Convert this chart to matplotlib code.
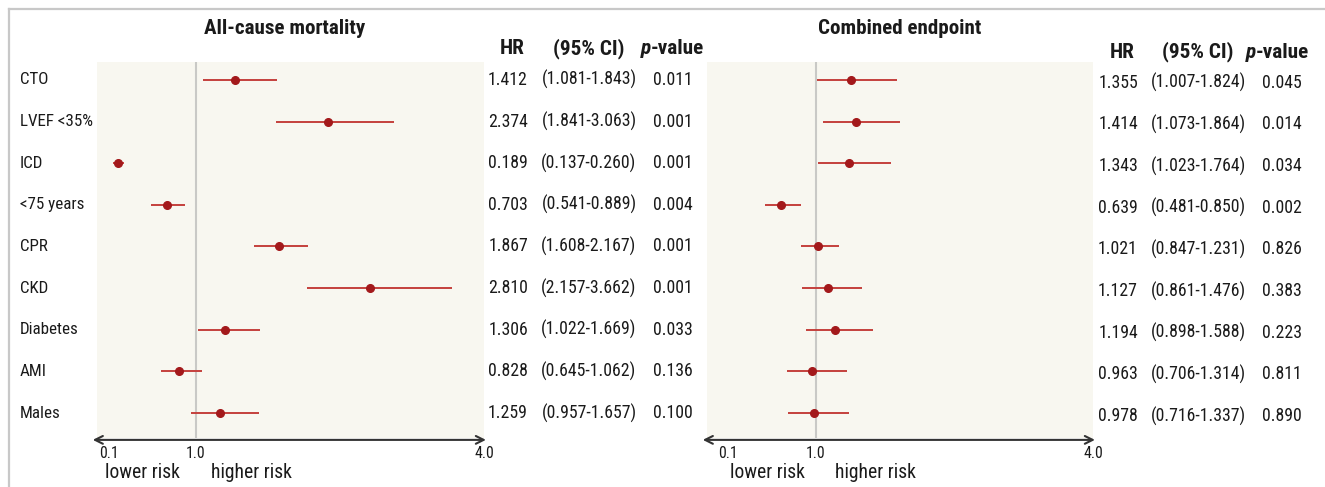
import matplotlib
matplotlib.use("Agg")
import matplotlib.pyplot as plt
import matplotlib.transforms as mtrans
from matplotlib import font_manager as fm
from matplotlib.lines import Line2D
from collections import defaultdict

# ---------------- data ----------------
labels = ["CTO", "LVEF <35%", "ICD", "<75 years", "CPR", "CKD", "Diabetes", "AMI", "Males"]

mort_hr = [1.412, 2.374, 0.189, 0.703, 1.867, 2.810, 1.306, 0.828, 1.259]
mort_lo = [1.081, 1.841, 0.137, 0.541, 1.608, 2.157, 1.022, 0.645, 0.957]
mort_hi = [1.843, 3.063, 0.260, 0.889, 2.167, 3.662, 1.669, 1.062, 1.657]
mort_p = ["0.011", "0.001", "0.001", "0.004", "0.001", "0.001", "0.033", "0.136", "0.100"]

comb_hr = [1.355, 1.414, 1.343, 0.639, 1.021, 1.127, 1.194, 0.963, 0.978]
comb_lo = [1.007, 1.073, 1.023, 0.481, 0.847, 0.861, 0.898, 0.706, 0.716]
comb_hi = [1.824, 1.864, 1.764, 0.850, 1.231, 1.476, 1.588, 1.314, 1.337]
comb_p = ["0.045", "0.014", "0.034", "0.002", "0.826", "0.383", "0.223", "0.811", "0.890"]

titles = ["All-cause mortality", "Combined endpoint"]
tick_labels = ["0.1", "1.0", "4.0"]

# ---------------- fonts ----------------
def _w(f):
    w = f.weight
    if isinstance(w, str):
        w = fm.weight_dict.get(w, 400)
    return w

fams = defaultdict(set)
for f in fm.fontManager.ttflist:
    if "Narrow" in f.name or "Condensed" in f.name:
        fams[f.name].add(_w(f))

pref = ["Liberation Sans Narrow", "Roboto Condensed", "DejaVu Sans Condensed",
        "Noto Sans Condensed", "Open Sans Condensed"]
names_sorted = sorted(fams, key=lambda n: (pref.index(n) if n in pref else 99, n))
reg_fam = None
bold_fam = None
for n in names_sorted:
    if reg_fam is None and min(fams[n]) <= 450:
        reg_fam = n
for n in names_sorted:
    if max(fams[n]) >= 600:
        bold_fam = n
        break

if reg_fam:
    REG = [reg_fam, "DejaVu Sans"]
    SC = 1.18
else:
    REG = ["Roboto", "DejaVu Sans"]
    SC = 1.0
if bold_fam:
    BOLD = [bold_fam, "DejaVu Sans"]
    BSC = 1.18
else:
    BOLD = ["Roboto", "DejaVu Sans"]
    BSC = 0.96
plt.rcParams["font.family"] = REG

FS_VAL = 10.8 * SC
FS_LAB = 10.4 * SC
FS_HEAD = 13 * BSC
FS_TITLE = 12.8 * BSC
FS_TICK = 9.6 * SC
FS_RISK = 12 * SC

W, H = 1325, 487
fig = plt.figure(figsize=(W / 100, H / 100), dpi=100)

def fx(px):
    return px / W

def fy(py):
    return 1 - py / H

# outer border
fig.add_artist(Line2D([fx(9), 1.01], [fy(9), fy(9)], color="#c8c8c8", lw=1.6))
fig.add_artist(Line2D([fx(9), fx(9)], [fy(9), -0.01], color="#c8c8c8", lw=1.6))

BG = "#f8f7f0"
LINEC = "#c4413d"
DOTC = "#a3191b"
TXT = "#1a1a1a"

panels = [
    dict(left=97, right=484, xlim=(-0.025, 4.0), ticks=[0.1, 1.0, 4.0],
         hr=mort_hr, lo=mort_lo, hi=mort_hi, p=mort_p, title=titles[0], title_x=285,
         col_hr=508, col_ci=589, col_p=673, p_split=651, head_y=49, dy=0.0,
         lr=(180, 211)),
    dict(left=707, right=1093, xlim=(-0.112, 3.83), ticks=[0.1, 1.0, 3.83],
         hr=comb_hr, lo=comb_lo, hi=comb_hi, p=comb_p, title=titles[1], title_x=900,
         col_hr=1118, col_ci=1198, col_p=1282, p_split=1256, head_y=52, dy=0.07,
         lr=(805, 835)),
]

top_px, bot_px = 62, 438
ylim = (8.6, -0.43)
rows = list(range(len(labels)))

for k, P in enumerate(panels):
    ax = fig.add_axes([fx(P["left"]), fy(bot_px), fx(P["right"] - P["left"]), (bot_px - top_px) / H])
    ax.set_facecolor(BG)
    ax.set_xlim(*P["xlim"])
    ax.set_ylim(*ylim)
    for s in ax.spines.values():
        s.set_visible(False)
    ax.set_yticks([])
    ax.set_xticks([])
    ax.axvline(1.0, color="#c9c9c6", lw=1.5, zorder=1)
    ax.hlines(rows, P["lo"], P["hi"], color=LINEC, lw=1.4, zorder=2)
    ax.plot(P["hr"], rows, "o", color=DOTC, ms=5.5, zorder=3)

    # arrow axis
    ax.annotate("", xy=(1.005, -0.005), xytext=(-0.011, -0.005), xycoords="axes fraction",
                arrowprops=dict(arrowstyle="<->", color="#333333", lw=1.5,
                                shrinkA=0, shrinkB=0, mutation_scale=14),
                annotation_clip=False)
    bt = mtrans.blended_transform_factory(ax.transData, fig.transFigure)
    for t, lab in zip(P["ticks"], tick_labels):
        ax.text(t, fy(454), lab, transform=bt, ha="center", va="center",
                fontsize=FS_TICK, color=TXT)
    ax.text(fx(P["lr"][0]), fy(473), "lower risk", transform=fig.transFigure,
            ha="right", va="center", fontsize=FS_RISK, color=TXT)
    ax.text(fx(P["lr"][1]), fy(473), "higher risk", transform=fig.transFigure,
            ha="left", va="center", fontsize=FS_RISK, color=TXT)

    # title
    fig.text(fx(P["title_x"]), fy(28), P["title"], ha="center", va="center",
             fontsize=FS_TITLE, fontweight="bold", family=BOLD, color=TXT)

    # table
    tt = mtrans.blended_transform_factory(fig.transFigure, ax.transData)
    fig.text(fx(P["col_hr"] + 4), fy(P["head_y"]), "HR", ha="center", va="center",
             fontsize=FS_HEAD, fontweight="bold", family=BOLD, color=TXT)
    fig.text(fx(P["col_ci"]), fy(P["head_y"]), "(95% CI)", ha="center", va="center",
             fontsize=FS_HEAD, fontweight="bold", family=BOLD, color=TXT)
    fig.text(fx(P["p_split"]), fy(P["head_y"]), "p", ha="right", va="center",
             fontsize=FS_HEAD, fontweight="bold", fontstyle="italic", family=BOLD, color=TXT)
    fig.text(fx(P["p_split"]), fy(P["head_y"]), "-value", ha="left", va="center",
             fontsize=FS_HEAD, fontweight="bold", family=BOLD, color=TXT)
    for i in rows:
        y = i + P["dy"]
        ax.text(fx(P["col_hr"]), y, f"{P['hr'][i]:.3f}", transform=tt, ha="center",
                va="center", fontsize=FS_VAL, color=TXT)
        ax.text(fx(P["col_ci"]), y, f"({P['lo'][i]:.3f}-{P['hi'][i]:.3f})", transform=tt,
                ha="center", va="center", fontsize=FS_VAL, color=TXT)
        ax.text(fx(P["col_p"]), y, P["p"][i], transform=tt, ha="center",
                va="center", fontsize=FS_VAL, color=TXT)

    if k == 0:
        for i in rows:
            ax.text(fx(20), i, labels[i], transform=tt, ha="left", va="center",
                    fontsize=FS_LAB, color=TXT)

fig.savefig("out.png", dpi=100, facecolor="white")
